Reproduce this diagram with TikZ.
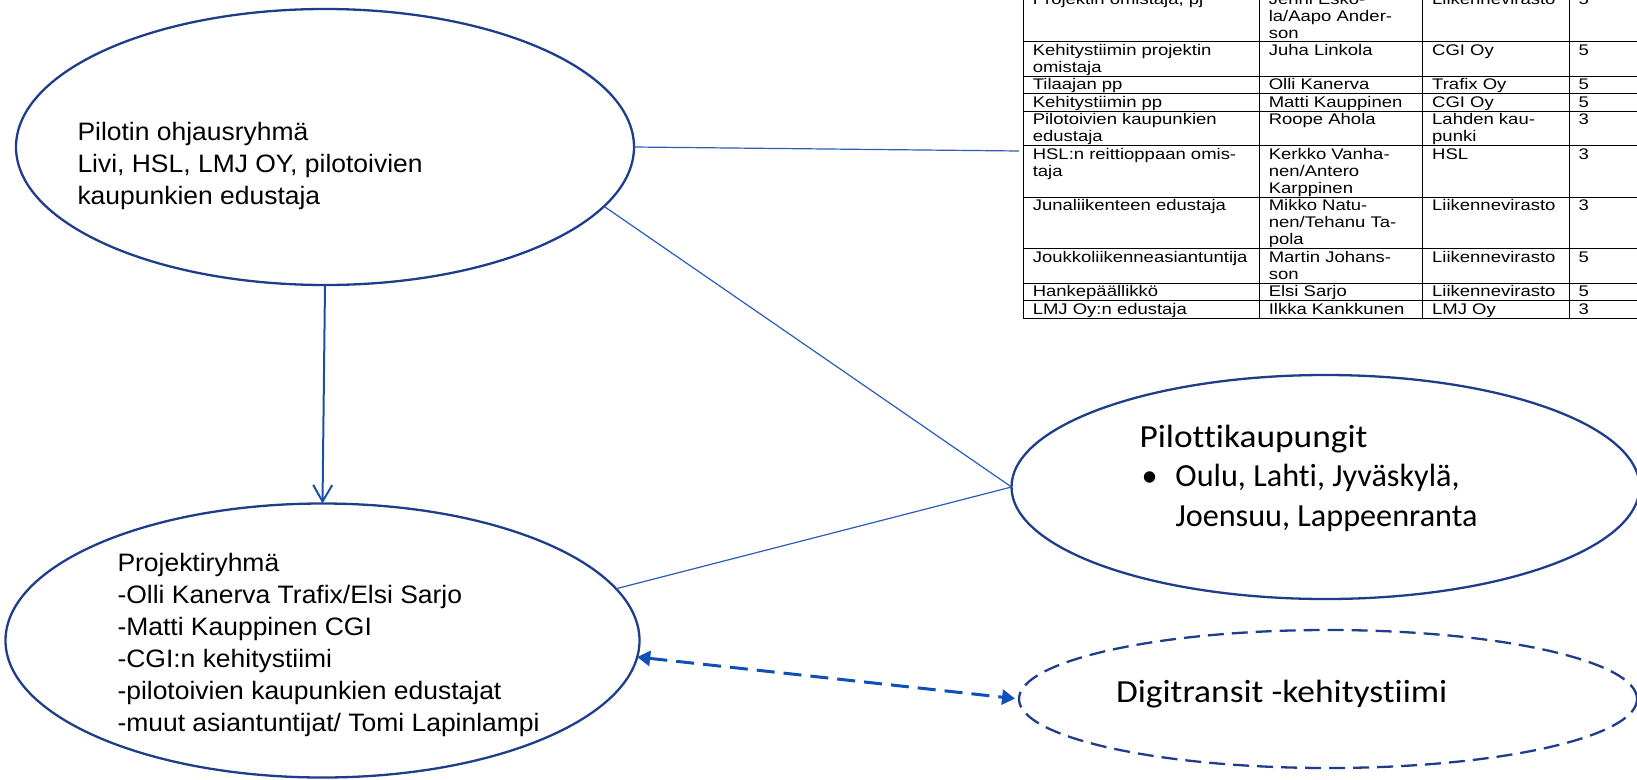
\documentclass[tikz,border=0pt]{standalone}
\usepackage{fontspec}
\usepackage{array}
\setmainfont{Liberation Sans}
\newfontfamily\projfont[FakeStretch=1.05]{Liberation Sans}
\newfontfamily\tabfont[FakeStretch=1.2]{Liberation Sans}
\newfontfamily\calfont[FakeStretch=1.1,Ligatures=NoCommon]{Carlito}
\newfontfamily\calplain[Ligatures=NoCommon]{Carlito}
\usetikzlibrary{shapes.geometric,arrows.meta}
\definecolor{ellblue}{HTML}{1F3D8A}
\definecolor{connblue}{HTML}{2A5CB8}
\definecolor{arrblue}{HTML}{1A4FA8}
\definecolor{dashblue}{HTML}{0F4FB8}
\newcolumntype{Q}[1]{>{\raggedright\arraybackslash}p{#1}}
\tikzset{
  ell/.style={ellipse, draw=ellblue, line width=2.3pt, inner sep=0pt, outer sep=0pt},
  dashell/.style={ellipse, draw=ellblue, line width=2.3pt, dash pattern=on 16pt off 8pt, inner sep=0pt, outer sep=0pt},
  conn/.style={draw=connblue, line width=1.2pt},
  mainarrow/.style={draw=arrblue, line width=2pt, -{Straight Barb[length=16.5pt,width=19pt,line width=2pt]}},
  dasharrow/.style={draw=dashblue, line width=3pt, dash pattern=on 18pt off 9pt, {Triangle[length=13pt,width=15pt]}-{Triangle[length=13pt,width=15pt]}},
  txt/.style={anchor=base west, inner sep=0pt, outer sep=0pt, text=black}
}
\begin{document}
\begin{tikzpicture}[x=1pt,y=-1pt]
\useasboundingbox (0,0) rectangle (1637,779);

% table (top right, cut off by the picture edges)
\node[anchor=north west, inner sep=0pt, outer sep=0pt, font=\tabfont\fontsize{15.4}{17}\selectfont] (tbl) at (1022.8,-10.3) {%
\setlength\tabcolsep{9pt}\setlength\arrayrulewidth{1pt}\setlength\extrarowheight{9.31pt}\renewcommand\arraystretch{0.627}%
\begin{tabular}{|Q{217pt}|Q{144.4pt}|Q{127.3pt}|Q{72pt}|}
\hline
\mbox{Projektin omistaja, pj} & \mbox{Jenni Esko-}\newline\mbox{la/Aapo Ander-}\newline\mbox{son} & \mbox{Liikennevirasto} & 5\\
\hline
\mbox{Kehitystiimin projektin}\newline\mbox{omistaja} & \mbox{Juha Linkola} & \mbox{CGI Oy} & 5\\
\hline
\mbox{Tilaajan pp} & \mbox{Olli Kanerva} & \mbox{Trafix Oy} & 5\\
\hline
\mbox{Kehitystiimin pp} & \mbox{Matti Kauppinen} & \mbox{CGI Oy} & 5\\
\hline
\mbox{Pilotoivien kaupunkien}\newline\mbox{edustaja} & \mbox{Roope Ahola} & \mbox{Lahden kau-}\newline\mbox{punki} & 3\\
\hline
\mbox{HSL:n reittioppaan omis-}\newline\mbox{taja} & \mbox{Kerkko Vanha-}\newline\mbox{nen/Antero}\newline\mbox{Karppinen} & \mbox{HSL} & 3\\
\hline
\mbox{Junaliikenteen edustaja} & \mbox{Mikko Natu-}\newline\mbox{nen/Tehanu Ta-}\newline\mbox{pola} & \mbox{Liikennevirasto} & 3\\
\hline
\mbox{Joukkoliikenneasiantuntija} & \mbox{Martin Johans-}\newline\mbox{son} & \mbox{Liikennevirasto} & 5\\
\hline
\mbox{Hankepäällikkö} & \mbox{Elsi Sarjo} & \mbox{Liikennevirasto} & 5\\
\hline
\mbox{LMJ Oy:n edustaja} & \mbox{Ilkka Kankkunen} & \mbox{LMJ Oy} & 3\\
\hline
\end{tabular}};

% ellipses
\node[ell, minimum width=618pt, minimum height=276pt] (P) at (325,147) {};
\node[ell, minimum width=634pt, minimum height=274pt] (R) at (322.5,640.5) {};
\node[ell, minimum width=628pt, minimum height=224pt] (K) at (1325.5,487) {};
\node[dashell, minimum width=618pt, minimum height=138pt] (D) at (1328,699) {};

% texts
\node[txt, font=\projfont\fontsize{25.2}{32}\selectfont] (Ptxt) at (77.5,140) {\begin{tabular}[t]{@{}l@{}}Pilotin ohjausryhmä\\Livi, HSL, LMJ OY, pilotoivien\\kaupunkien edustaja\end{tabular}};
\node[txt, font=\projfont\fontsize{25.2}{32}\selectfont] (Rtxt) at (117.5,571) {\begin{tabular}[t]{@{}l@{}}Projektiryhmä\\-Olli Kanerva Trafix/Elsi Sarjo\\-Matti Kauppinen CGI\\-CGI:n kehitystiimi\\-pilotoivien kaupunkien edustajat\\-muut asiantuntijat/ Tomi Lapinlampi\end{tabular}};
\node[txt, font=\calplain\fontsize{32.2}{39.3}\selectfont] (Ktxt) at (1139.5,447.5) {\begin{tabular}[t]{@{}l@{}}{\calfont Pilottikaupungit}\\\hspace*{2pt}\makebox[34pt][l]{•}Oulu, Lahti, Jyväskylä,\\\hspace*{36pt}Joensuu, Lappeenranta\end{tabular}};
\node[txt, font=\calfont\fontsize{32.2}{39}\selectfont] (Dtxt) at (1116,702) {Digitransit -kehitystiimi};

% connectors
\coordinate (tblend) at (1019,151);
\draw[conn] (P.east) -- (tblend);
\draw[conn] (P.-12.4) -- (K.west);
\draw[conn] (R.10.8) -- (K.west);
\draw[mainarrow] (P.south) -- (R.north);
\draw[dasharrow, shorten >=4pt] (R.-3.5) -- (D.west);
\end{tikzpicture}
\end{document}
